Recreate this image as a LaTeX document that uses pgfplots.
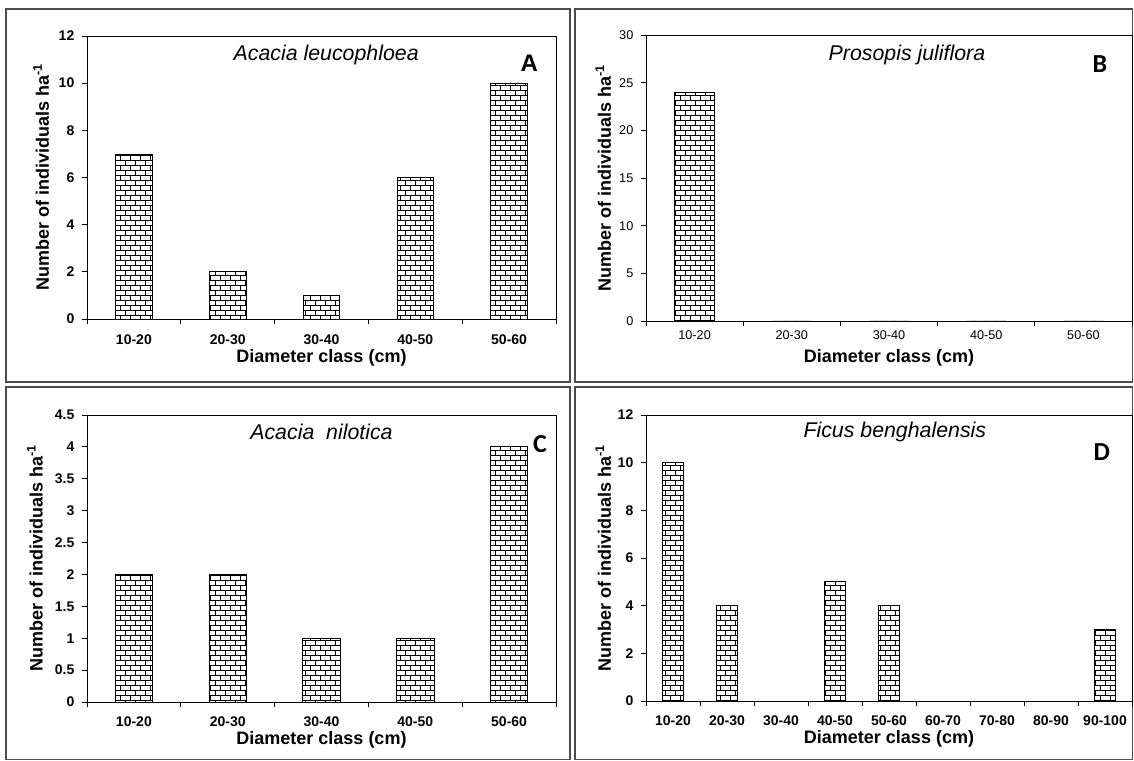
\documentclass[border=0pt]{standalone}
\usepackage{pgfplots}
\pgfplotsset{compat=1.18}
\usepackage{fontspec}
\setmainfont{Liberation Sans}
\newfontfamily\calibri{Carlito}
\usetikzlibrary{patterns.meta}
\tikzdeclarepattern{
  name=mybricks,
  type=uncolored,
  bottom left={(-0.5pt,-0.5pt)},
  top right={(8pt,8pt)},
  tile size={(7.5pt,7.5pt)},
  code={
    \draw[line width=0.45pt] (0pt,0pt) -- (7.5pt,0pt) (0pt,3.75pt) -- (7.5pt,3.75pt)
      (0pt,0pt) -- (0pt,3.75pt) (3.75pt,3.75pt) -- (3.75pt,7.5pt);
  }
}
\pgfplotsset{
  panel/.style={
    scale only axis, ymin=0,
    axis line style={black, line width=0.7pt},
    tick style={black, line width=0.6pt},
    major tick length=4pt, minor tick length=4pt,
    tick align=outside, tick pos=left,
    major x tick style={draw=none},
    yticklabel style={font=\fontsize{10.5}{12}\selectfont\bfseries, xshift=-2pt},
    /pgf/number format/assume math mode=true,
    xlabel={Diameter class (cm)},
    ylabel={Number of individuals ha\textsuperscript{-1}},
    label style={font=\fontsize{13.5}{16}\selectfont\bfseries},
    xlabel style={at={(axis description cs:0.5,0)}, anchor=center, yshift=-28pt},
  },
  brickbar/.style={draw=black, line width=0.6pt, pattern=mybricks, pattern color=black},
}
\begin{document}
\begin{tikzpicture}
\useasboundingbox (0,0) rectangle (850.5pt,570pt);
\fill[white] (0,0) rectangle (850.5pt,570pt);
\draw[black!70, line width=0.9pt] (4.5pt,283.5pt) rectangle (427.5pt,563.25pt);
\draw[black!70, line width=0.9pt] (431.25pt,283.5pt) rectangle (849.5pt,563.25pt);
\draw[black!70, line width=0.9pt] (4.5pt,0.5pt) rectangle (427.5pt,279.75pt);
\draw[black!70, line width=0.9pt] (431.25pt,0.5pt) rectangle (849.5pt,279.75pt);

% Panel A
\begin{axis}[panel, at={(65.25pt,330.75pt)}, anchor=south west,
  width=351.75pt, height=212.25pt,
  xmin=-0.5, xmax=4.5, ymax=12, ytick={0,2,...,12},
  xtick={0,...,4}, xticklabels={10-20,20-30,30-40,40-50,50-60},
  minor xtick={-0.5,0.5,...,4.5},
  xticklabel style={font=\fontsize{10.5}{12}\selectfont\bfseries, yshift=-4pt},
  xlabel style={yshift=-1.5pt},
  ylabel style={at={(axis description cs:-0.098,0.5)}, anchor=center}]
\addplot[ybar, bar width=0.39, brickbar] coordinates {(0,7) (1,2) (2,1) (3,6) (4,10)};
\node at (rel axis cs:0.51,0.933) {\fontsize{16}{18}\selectfont\itshape Acacia leucophloea};
\node at (rel axis cs:0.943,0.905) {\fontsize{18}{20}\selectfont\bfseries A};
\end{axis}

% Panel B
\begin{axis}[panel, at={(484.5pt,329.25pt)}, anchor=south west,
  width=364.5pt, height=214.5pt,
  xmin=-0.5, xmax=4.5, ymax=30, ytick={0,5,...,30},
  xtick={0,...,4}, xticklabels={10-20,20-30,30-40,40-50,50-60},
  minor xtick={-0.5,0.5,...,4.5},
  xticklabel style={font=\fontsize{9.5}{11}\selectfont},
  yticklabel style={font=\fontsize{9.5}{11}\selectfont\mdseries},
  ylabel style={at={(axis description cs:-0.088,0.5)}, anchor=center}]
\addplot[ybar, bar width=0.41, brickbar] coordinates {(0,24) (1,0) (2,0) (3,0) (4,0)};
\node at (rel axis cs:0.537,0.93) {\fontsize{16}{18}\selectfont\itshape Prosopis juliflora};
\node at (rel axis cs:0.934,0.90) {\calibri\fontsize{19.5}{22}\selectfont\bfseries B};
\end{axis}

% Panel C
\begin{axis}[panel, at={(65.25pt,43.5pt)}, anchor=south west,
  width=351.75pt, height=215.25pt,
  xmin=-0.5, xmax=4.5, ymax=4.5, ytick={0,0.5,...,4.5},
  xtick={0,...,4}, xticklabels={10-20,20-30,30-40,40-50,50-60},
  minor xtick={-0.5,0.5,...,4.5},
  xticklabel style={font=\fontsize{10.5}{12}\selectfont\bfseries, yshift=-3.5pt},
  xlabel style={yshift=-0.5pt},
  ylabel style={at={(axis description cs:-0.111,0.5)}, anchor=center}]
\addplot[ybar, bar width=0.4, brickbar] coordinates {(0,2) (1,2) (2,1) (3,1) (4,4)};
\node at (rel axis cs:0.50,0.94) {\fontsize{16}{18}\selectfont\itshape Acacia\ \ nilotica};
\node at (rel axis cs:0.966,0.90) {\calibri\fontsize{19.5}{22}\selectfont\bfseries C};
\end{axis}

% Panel D
\begin{axis}[panel, at={(484.5pt,44.25pt)}, anchor=south west,
  width=364.5pt, height=214.5pt,
  xmin=-0.5, xmax=8.5, ymax=12, ytick={0,2,...,12},
  xtick={0,...,8}, xticklabels={10-20,20-30,30-40,40-50,50-60,60-70,70-80,80-90,90-100},
  minor xtick={-0.5,0.5,...,8.5},
  xticklabel style={font=\fontsize{10.5}{12}\selectfont\bfseries, yshift=-3.5pt},
  xlabel style={yshift=-0.5pt},
  ylabel style={at={(axis description cs:-0.088,0.5)}, anchor=center}]
\addplot[ybar, bar width=0.4, brickbar] coordinates {(0,10) (1,4) (2,0) (3,5) (4,4) (5,0) (6,0) (7,0) (8,3)};
\node at (rel axis cs:0.512,0.94) {\fontsize{16}{18}\selectfont\itshape Ficus benghalensis};
\node at (rel axis cs:0.938,0.87) {\calibri\fontsize{19.5}{22}\selectfont\bfseries D};
\end{axis}
\end{tikzpicture}
\end{document}
